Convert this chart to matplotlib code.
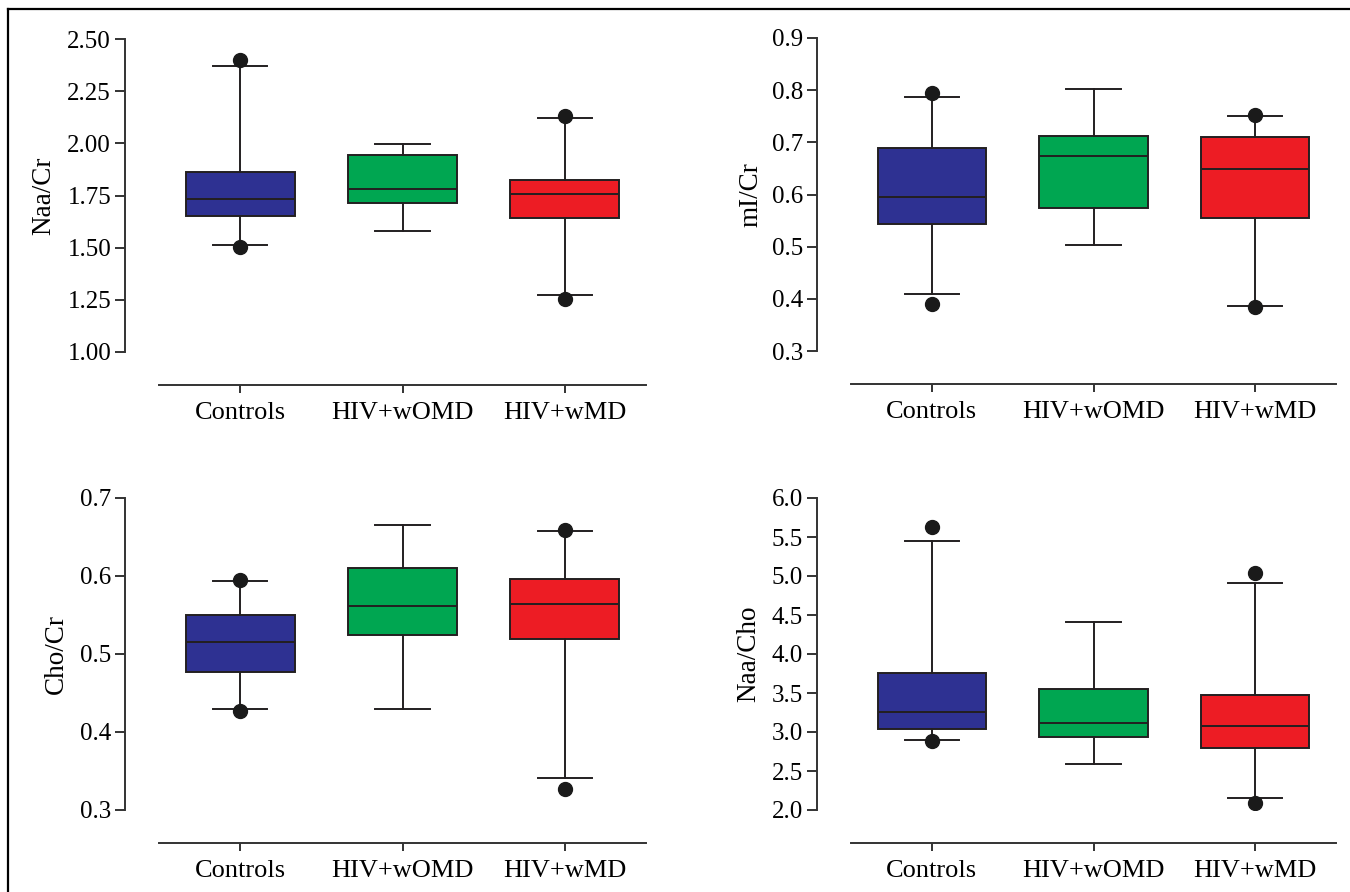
import matplotlib
matplotlib.use("Agg")
import matplotlib.pyplot as plt
from matplotlib.lines import Line2D

plt.rcParams["font.family"] = ["Liberation Serif", "DejaVu Serif"]

groups = ["Controls", "HIV+wOMD", "HIV+wMD"]
colors = ["#2E3192", "#00A651", "#ED1C24"]
edge = "#231F20"

# each row per group: whislo, q1, med, q3, whishi ; fliers separately
naa_cr = [[1.512, 1.652, 1.733, 1.863, 2.370],
          [1.580, 1.712, 1.783, 1.943, 1.996],
          [1.272, 1.640, 1.756, 1.824, 2.122]]
naa_cr_out = [[1.505, 2.400], [], [1.255, 2.132]]

mi_cr = [[0.409, 0.543, 0.595, 0.690, 0.787],
         [0.503, 0.575, 0.673, 0.712, 0.803],
         [0.387, 0.554, 0.648, 0.710, 0.751]]
mi_cr_out = [[0.391, 0.794], [], [0.384, 0.753]]

cho_cr = [[0.429, 0.477, 0.516, 0.550, 0.594],
          [0.429, 0.524, 0.561, 0.610, 0.665],
          [0.341, 0.519, 0.564, 0.596, 0.658]]
cho_cr_out = [[0.427, 0.595], [], [0.327, 0.659]]

naa_cho = [[2.903, 3.044, 3.254, 3.754, 5.444],
           [2.586, 2.941, 3.117, 3.549, 4.404],
           [2.150, 2.796, 3.078, 3.472, 4.913]]
naa_cho_out = [[2.89, 5.632], [], [2.086, 5.037]]

W, H = 1350, 892
fig = plt.figure(figsize=(W / 100, H / 100), dpi=100)
PT = 72 / 100  # pixels -> points


def px_axes(left, right, top, bottom):
    return fig.add_axes([left / W, 1 - bottom / H, (right - left) / W, (bottom - top) / H])


def panel(rect, vals, outs, ylabel, ylim, yticks, fmt, label_x):
    ax = px_axes(*rect)
    stats = []
    for v, o in zip(vals, outs):
        stats.append(dict(whislo=v[0], q1=v[1], med=v[2], q3=v[3], whishi=v[4], fliers=o))
    bp = ax.bxp(stats, positions=range(3), widths=0.67, patch_artist=True,
                boxprops=dict(edgecolor=edge, linewidth=1.4),
                medianprops=dict(color=edge, linewidth=1.4),
                whiskerprops=dict(color=edge, linewidth=1.4),
                capprops=dict(color=edge, linewidth=1.4),
                flierprops=dict(marker="o", markersize=10, markerfacecolor="#1a1a1a",
                                markeredgecolor="#1a1a1a", linestyle="none"))
    for patch, c in zip(bp["boxes"], colors):
        patch.set_facecolor(c)
    ax.set_xlim(-0.5, 2.5)
    ax.set_ylim(*ylim)
    ax.set_yticks(yticks)
    ax.set_yticklabels([fmt.format(t) for t in yticks])
    ax.set_xticks(range(3))
    ax.set_xticklabels(groups)
    for s in ("top", "right"):
        ax.spines[s].set_visible(False)
    ax.spines["left"].set_position(("outward", 34 * PT))
    ax.spines["bottom"].set_position(("outward", 33 * PT))
    for s in ("left", "bottom"):
        ax.spines[s].set_linewidth(1.4)
        ax.spines[s].set_color("#333333")
    ax.tick_params(axis="y", length=7, width=1.4, pad=3, color="#333333", labelsize=18)
    ax.tick_params(axis="x", length=6, width=1.4, pad=6, color="#333333", labelsize=19)
    ax.set_ylabel(ylabel, fontsize=19.5)
    ax.yaxis.set_label_coords(label_x, 0.5)
    return ax


panel((159, 646, 39, 352), naa_cr, naa_cr_out, "Naa/Cr", (1.0, 2.5),
      [1.0, 1.25, 1.5, 1.75, 2.0, 2.25, 2.5], "{:.2f}", -0.211)
panel((851, 1336, 38, 351), mi_cr, mi_cr_out, "mI/Cr", (0.3, 0.9),
      [0.3, 0.4, 0.5, 0.6, 0.7, 0.8, 0.9], "{:.1f}", -0.181)
panel((159, 646, 498, 810), cho_cr, cho_cr_out, "Cho/Cr", (0.3, 0.7),
      [0.3, 0.4, 0.5, 0.6, 0.7], "{:.1f}", -0.185)
panel((851, 1336, 498, 810), naa_cho, naa_cho_out, "Naa/Cho", (2.0, 6.0),
      [2.0, 2.5, 3.0, 3.5, 4.0, 4.5, 5.0, 5.5, 6.0], "{:.1f}", -0.186)

# frame lines at top and left edge
fig.add_artist(Line2D([8 / W, 1], [1 - 9 / H, 1 - 9 / H], color="black", lw=1.6))
fig.add_artist(Line2D([8 / W, 8 / W], [0, 1 - 9 / H], color="black", lw=1.6))

fig.savefig("out.png", dpi=100)
